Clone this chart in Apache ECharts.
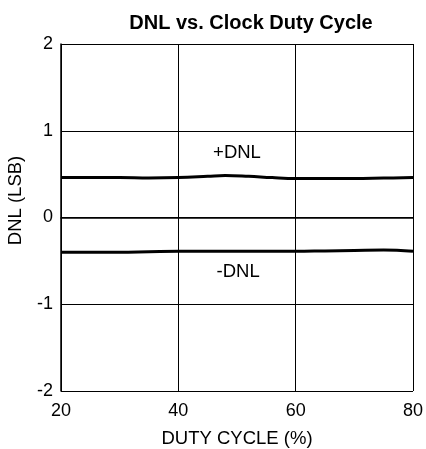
<!DOCTYPE html>
<html>
<head>
<meta charset="utf-8">
<script src="https://cdn.jsdelivr.net/npm/echarts@6/dist/echarts.min.js"></script>
<style>
  html, body { margin: 0; padding: 0; background: #fff; }
  #chart { width: 426px; height: 449px; }
</style>
</head>
<body>
<div id="chart"></div>
<script>
// 数据
const dutyCycle = [20, 25, 30, 35, 40, 45, 48, 52, 56, 60, 65, 70, 75, 80];
const dnlPlus = [0.46, 0.46, 0.46, 0.455, 0.46, 0.475, 0.485, 0.475, 0.46, 0.45, 0.45, 0.45, 0.455, 0.46];
const dnlMinus = [-0.40, -0.40, -0.40, -0.395, -0.39, -0.39, -0.39, -0.39, -0.39, -0.39, -0.385, -0.38, -0.375, -0.39];
const xTicks = [20, 40, 60, 80];
const yTicks = [-2, -1, 0, 1, 2];

const myChart = echarts.init(document.getElementById("chart"));
const font = "Liberation Sans, Arial, sans-serif";

function pairs(ys) {
  return dutyCycle.map((x, i) => [x, ys[i]]);
}

const option = {
  animation: false,
  title: {
    text: "DNL vs. Clock Duty Cycle",
    left: 246,
    top: 8,
    textAlign: "center",
    textStyle: { fontFamily: font, fontSize: 20, fontWeight: "bold", color: "#000" }
  },
  grid: { left: 61, right: 13, top: 44, bottom: 58, containLabel: false, outerBoundsMode: "none" },
  xAxis: {
    type: "value",
    min: xTicks[0],
    max: xTicks[xTicks.length - 1],
    interval: 20,
    name: "DUTY CYCLE (%)",
    nameLocation: "middle",
    nameGap: 38,
    nameTextStyle: { fontFamily: font, fontSize: 18.5, color: "#000" },
    axisLine: { show: true, lineStyle: { color: "#000", width: 1.5 } },
    axisTick: { show: false },
    axisLabel: { fontFamily: font, fontSize: 18, color: "#000", margin: 11 },
    splitLine: { show: true, lineStyle: { color: "#000", width: 1 } }
  },
  yAxis: {
    type: "value",
    min: yTicks[0],
    max: yTicks[yTicks.length - 1],
    interval: 1,
    name: "DNL (LSB)",
    nameLocation: "middle",
    nameGap: 36,
    nameTextStyle: { fontFamily: font, fontSize: 18.5, color: "#000", padding: [0, 0, 0, 34] },
    axisLine: { show: true, lineStyle: { color: "#000", width: 1.5 } },
    axisTick: { show: false },
    axisLabel: { fontFamily: font, fontSize: 18, color: "#000", margin: 8 },
    splitLine: { show: true, lineStyle: { color: "#000", width: 1 } }
  },
  series: [
    {
      name: "+DNL",
      type: "line",
      smooth: 0.4,
      showSymbol: false,
      lineStyle: { color: "#000", width: 3 },
      data: pairs(dnlPlus),
      markPoint: {
        symbol: "circle",
        symbolSize: 0,
        data: [{ coord: [50, 0.74] }],
        label: { show: true, formatter: "+DNL", color: "#000", fontFamily: font, fontSize: 18.5, position: "inside" }
      }
    },
    {
      name: "-DNL",
      type: "line",
      smooth: 0.4,
      showSymbol: false,
      lineStyle: { color: "#000", width: 3 },
      data: pairs(dnlMinus),
      markPoint: {
        symbol: "circle",
        symbolSize: 0,
        data: [{ coord: [50.2, -0.63] }],
        label: { show: true, formatter: "-DNL", color: "#000", fontFamily: font, fontSize: 18.5, position: "inside" }
      }
    }
  ]
};
myChart.setOption(option);
window.addEventListener("resize", function () {
  myChart.resize();
});
</script>
</body>
</html>
